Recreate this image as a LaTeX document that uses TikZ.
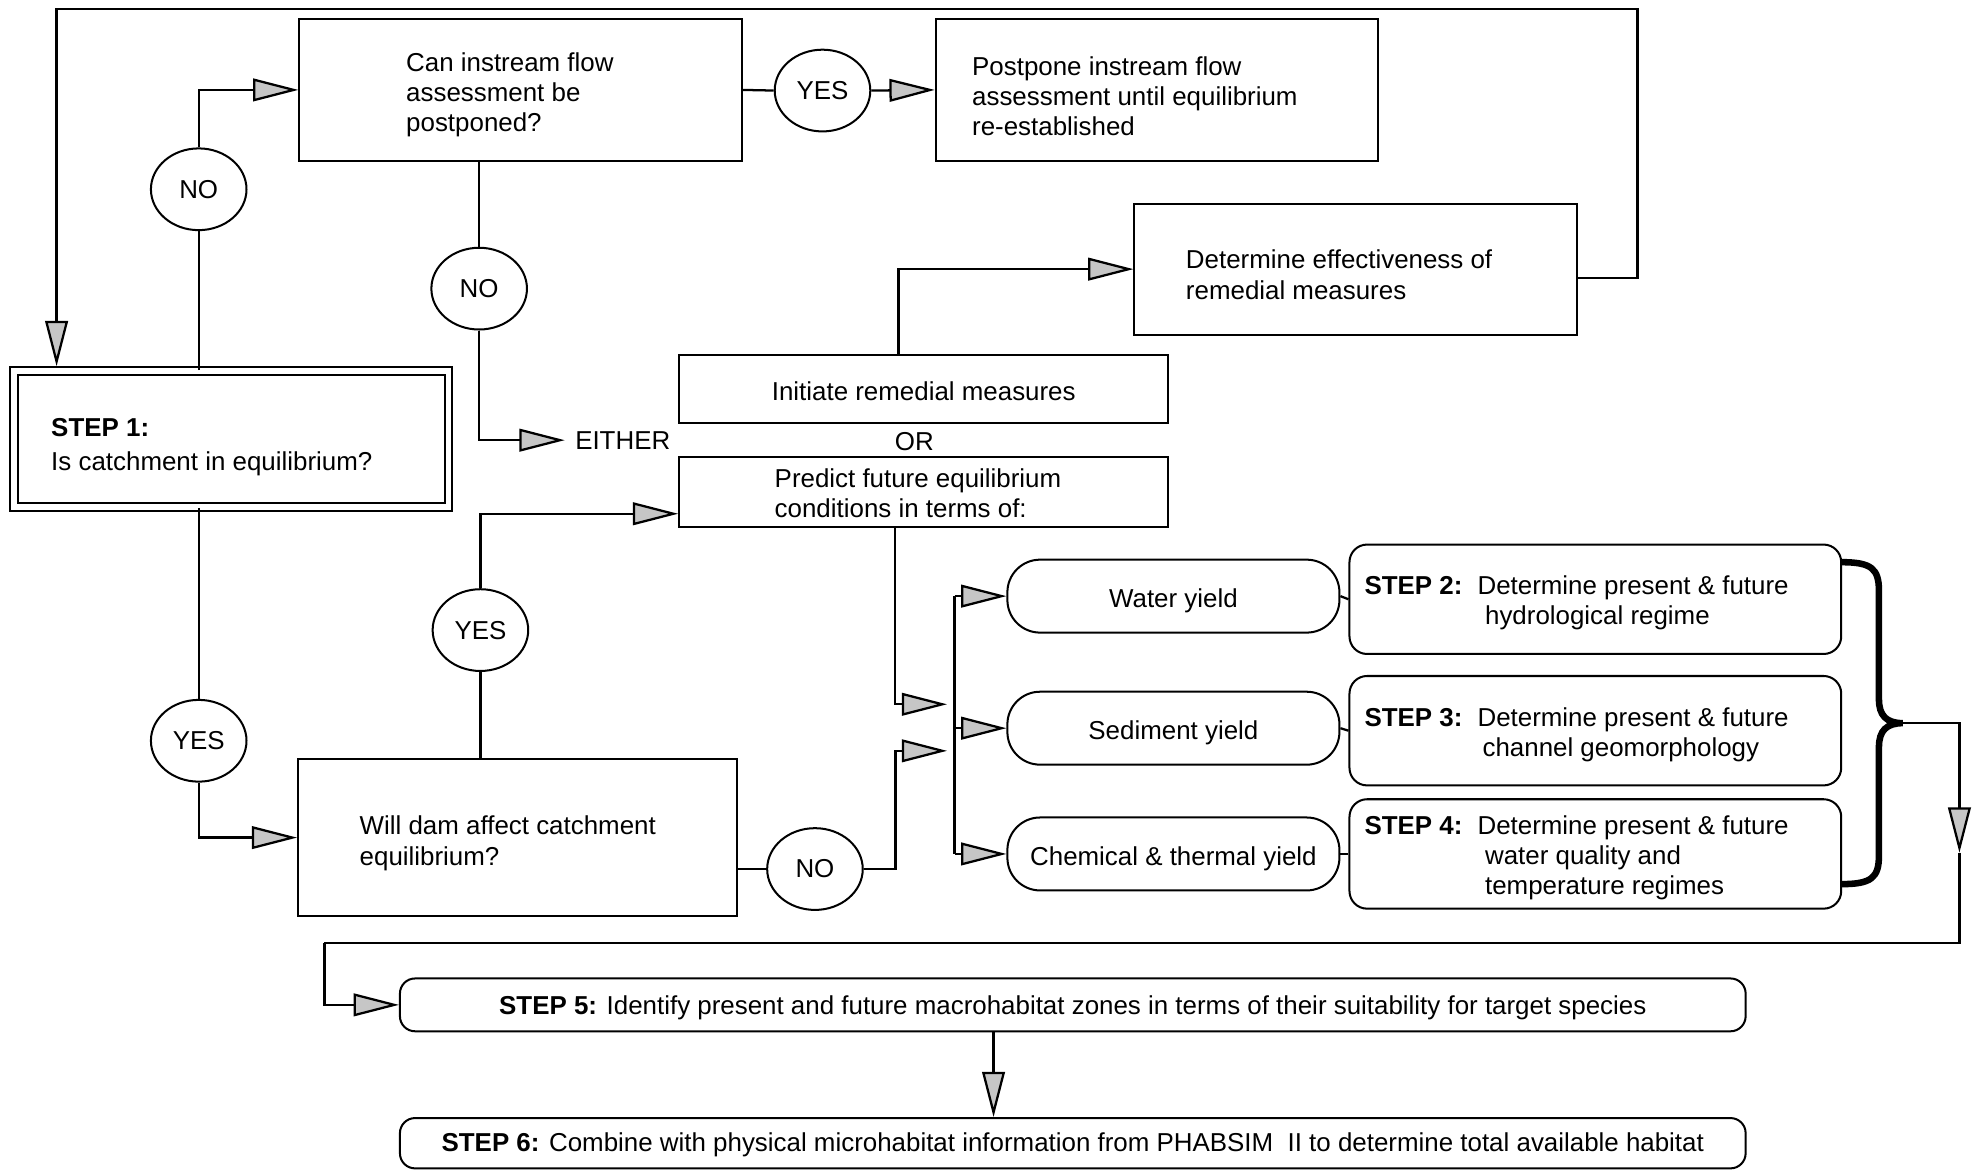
\documentclass[tikz,border=0pt]{standalone}
\usepackage{fontspec}
\setmainfont{Liberation Sans}
\usetikzlibrary{arrows.meta,shapes.geometric,calc}
\newcommand{\lo}[2]{\raisebox{-#1}[\height][\depth]{#2}}
\newcommand{\lbox}[3]{\lo{#1}{\makebox[#2][l]{\begin{tabular}{@{}l@{}}#3\end{tabular}}}}
\newcommand{\stp}[2]{\lo{1.8pt}{\makebox[183.5pt][l]{\begin{tabular}{@{}l@{\hspace{6pt}}l@{}}\textbf{#1} & Determine present \& future\\ #2\end{tabular}}}}
\begin{document}
\begin{tikzpicture}[x=0.5pt,y=-0.5pt,
  every node/.style={font=\fontsize{10.3}{12}\selectfont},
  box/.style={draw, line width=0.8pt, rectangle, inner ysep=0pt},
  oval/.style={draw, ellipse, line width=0.8pt, minimum width=38pt, minimum height=32.5pt, inner sep=0pt},
  ybox/.style={draw, rounded corners=13pt, line width=0.8pt, minimum width=132pt, minimum height=29pt, inner sep=0pt},
  sbox/.style={draw, rounded corners=7pt, line width=0.8pt, minimum height=43.5pt, inner xsep=6pt, inner ysep=0pt},
  wbox/.style={draw, rounded corners=6pt, line width=0.8pt, minimum width=535pt, minimum height=21pt, inner sep=0pt},
  conn/.style={line width=0.9pt},
  arr/.style={conn, -{Triangle[length=18pt,width=9pt,fill=gray!45]}}]
\useasboundingbox (0,0) rectangle (1568,931);

% boxes
\node[box, double, double distance=2.2pt, inner xsep=14.75pt, minimum height=54pt] (s1) at (184,349) {\lbox{3.5pt}{143.25pt}{\textbf{STEP 1:}\\[1.5pt] Is catchment in equilibrium?}};
\node[box, inner xsep=42.5pt, minimum height=56.5pt] (q1) at (414,71.5) {\lbox{2.25pt}{91pt}{Can instream flow\\ assessment be\\ postponed?}};
\node[box, inner xsep=14.5pt, minimum height=56.5pt] (post) at (920,71.5) {\lbox{3.7pt}{147pt}{Postpone instream flow\\ assessment until equilibrium\\ re-established}};
\node[box, inner xsep=20.5pt, minimum height=52pt] (det) at (1078,214) {\lbox{3.5pt}{135pt}{Determine effectiveness of\\ remedial measures}};
\node[box, minimum width=194.5pt, minimum height=27pt] (init) at (734.5,309) {\lo{1pt}{Initiate remedial measures}};
\node[box, inner xsep=38pt, minimum height=28pt] (pred) at (734.5,391) {\lbox{1.75pt}{118.5pt}{Predict future equilibrium\\ conditions in terms of:}};
\node[box, inner xsep=24.5pt, minimum height=62.25pt] (dam) at (411.5,666) {\lbox{2.5pt}{125.5pt}{Will dam affect catchment\\ equilibrium?}};

% decisions
\node[oval] (no1) at (158,150.5) {NO};
\node[oval] (yes1) at (654,72) {YES};
\node[oval] (no2) at (381,229.5) {NO};
\node[oval] (yes2) at (158,589) {YES};
\node[oval] (yes3) at (382,501) {YES};
\node[oval] (no3) at (648,691) {NO};

\node[anchor=west, inner sep=4pt] (either) at (449,350) {EITHER};
\node (or) at (727,351) {OR};

% yields
\node[ybox] (wy) at (933,474) {\lo{2pt}{Water yield}};
\node[ybox] (sy) at (933,579) {\lo{2pt}{Sediment yield}};
\node[ybox] (cy) at (933,679) {\lo{2pt}{Chemical \& thermal yield}};

% steps
\node[sbox] (st2) at (1268.5,476.5) {\stp{STEP 2:}{& \hspace{3pt}hydrological regime}};
\node[sbox] (st3) at (1268.5,581) {\stp{STEP 3:}{& \hspace{2pt}channel geomorphology}};
\node[sbox] (st4) at (1268.5,679) {\stp{STEP 4:}{& \hspace{3pt}water quality and\\ & \hspace{3pt}temperature regimes}};

\node[wbox] (s5) at (853,799) {\lo{1pt}{\textbf{STEP 5:} Identify present and future macrohabitat zones in terms of their suitability for target species}};
\node[wbox, minimum height=20pt] (s6) at (853,909) {\lo{0.5pt}{\textbf{STEP 6:} Combine with physical microhabitat information from PHABSIM~~II to determine total available habitat}};

% helper coordinates
\coordinate (bus) at (759,0);
\coordinate (j1) at (753,560);
\coordinate (k2) at (712,597);
\coordinate (j2) at (753,597);
\coordinate (btip) at (1513,575);
\coordinate (a1) at (1558,678);
\coordinate (k4) at (258,750);
\coordinate (tl) at (45,7);
\coordinate (tr) at (1302,7);

% connectors
\draw[arr] ($(det.east)+(0,7)$) -| (tr) -| ($(tl |- s1.north)+(0,-3)$);
\draw[conn] (no1 |- s1.north) -- (no1.south);
\draw[arr] (no1.north) |- (q1.west);
\draw[conn] (q1.east) -- (yes1.west);
\draw[arr] (yes1.east) -- (post.west);
\draw[conn] (no2 |- q1.south) -- (no2.north);
\draw[arr] (no2.south) |- (either.west);
\draw[arr] ($(init.north)+(-20,0)$) |- (det.west);
\draw[conn] (yes2 |- s1.south) -- (yes2.north);
\draw[arr] (yes2.south) |- (dam.west);
\draw[conn] (yes3 |- dam.north) -- (yes3.south);
\draw[arr] (yes3.north) |- ($(pred.west)+(0,17.5)$);
\draw[conn] (no3.west -| dam.east) -- (no3.west);
\draw[arr] (no3.east) -| (k2) -- (j2);
\draw[arr] ($(pred.south)+(-23,0)$) |- (j1);
\draw[conn] (bus |- wy.west) -- (bus |- cy.west);
\draw[arr] (bus |- wy.west) -- (wy.west);
\draw[arr] (bus |- sy.west) -- (sy.west);
\draw[arr] (bus |- cy.west) -- (cy.west);
\draw[conn] (wy.east) -- (st2.west);
\draw[conn] (sy.east) -- (st3.west);
\draw[conn] (cy.east) -- (st4.west);

% brace
\draw[line width=2.6pt] (1464,447) .. controls (1488,447) and (1494,452) .. (1494,470) -- (1494,556) .. controls (1494,569) and (1500,575) .. (btip) .. controls (1500,575) and (1494,581) .. (1494,594) -- (1494,680) .. controls (1494,698) and (1488,703) .. (1464,703);

\draw[arr] (btip) -| (a1);
\draw[conn] (a1) |- (k4);
\draw[arr] (k4) |- (s5.west);
\draw[arr] ($(s5.south)+(-63,0)$) -- ($(s6.north)+(-63,0)$);
\end{tikzpicture}
\end{document}
